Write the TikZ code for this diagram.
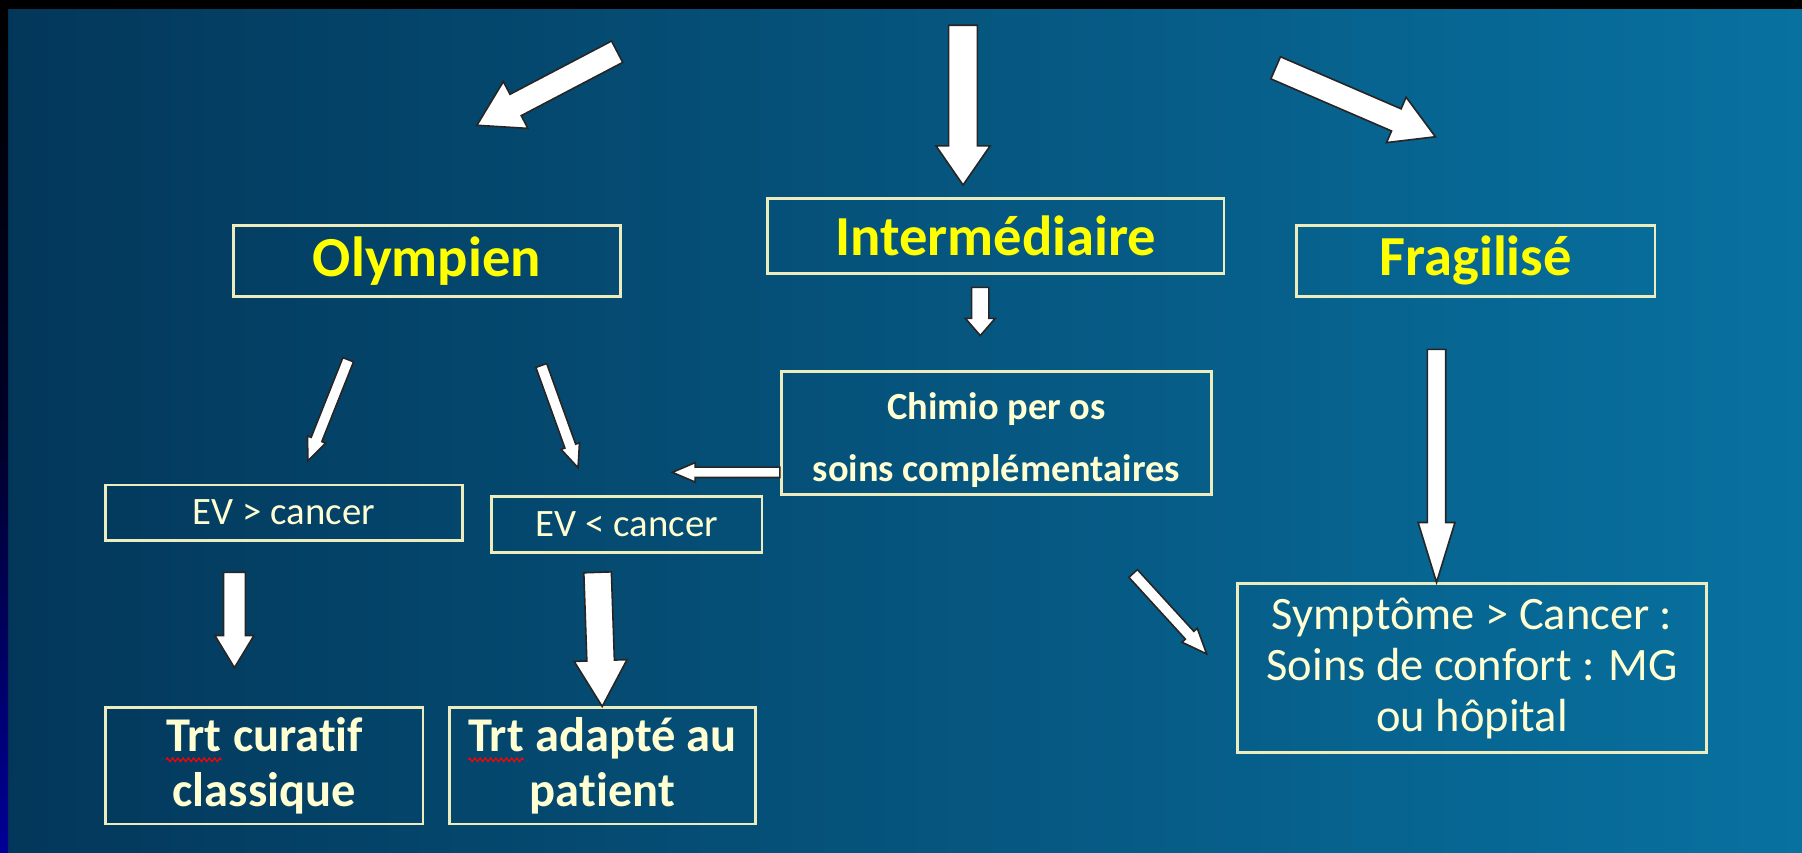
\documentclass[tikz,border=0pt]{standalone}
\usepackage{fontspec}
\setmainfont{Carlito}[Ligatures=NoCommon]
\usetikzlibrary{calc,decorations.pathmorphing}
\definecolor{bgL}{RGB}{3,55,90}
\definecolor{bgR}{RGB}{8,113,160}
\definecolor{ylw}{RGB}{255,255,0}
\definecolor{crm}{RGB}{255,255,210}
\definecolor{bord}{RGB}{236,236,190}
\definecolor{navy}{RGB}{0,0,150}
\definecolor{lnavy}{RGB}{0,0,40}
\tikzset{
  box/.style={draw=bord, line width=0.7pt, inner sep=0pt, align=center},
  hbox/.style={box, text=ylw, font=\bfseries\fontsize{14}{16}\selectfont},
  evbox/.style={box, text=crm, font=\fontsize{9.6}{11}\selectfont},
  trtbox/.style={box, text=crm, font=\bfseries\fontsize{12}{13.6}\selectfont},
  chtext/.style={text=crm, font=\bfseries\fontsize{9.5}{11}\selectfont, align=center, inner sep=0pt},
  sybox/.style={box, text=crm, font=\fontsize{11.5}{12.6}\selectfont},
  blockarrow/.style={fill=white, draw=black!85, line width=0.4pt, line join=miter}
}
\newcommand\barrow[5]{%
  \coordinate (bah) at ($(#2)!#5!(#1)$);
  \filldraw[blockarrow] ($(#1)!#3!90:(#2)$) -- ($(bah)!#3!-90:(#1)$) -- ($(bah)!#4!-90:(#1)$) -- (#2)
    -- ($(bah)!#4!90:(#1)$) -- ($(bah)!#3!90:(#1)$) -- ($(#1)!#3!-90:(#2)$) -- cycle;
}
\newcommand\sqg[1]{\tikz[baseline=(sqgw.base)]{\node[inner sep=0pt, outer sep=0pt, draw=none,
    minimum width=0pt, minimum height=0pt, anchor=base, align=left] (sqgw) {#1};
  \draw[red, line width=0.3pt, decorate, decoration={zigzag, amplitude=0.45pt, segment length=1.3pt}]
    ([yshift=-2pt]sqgw.base west) -- ([yshift=-2pt]sqgw.base east);}}
\begin{document}
\begin{tikzpicture}[x=0.01cm,y=-0.01cm]
\useasboundingbox (0,0) rectangle (1568,742);
\shade[left color=bgL, right color=bgR] (0,0) rectangle (1568,742);
\shade[top color=black, bottom color=navy, middle color=lnavy] (0,0) rectangle (7,742);
\fill[black] (0,0) rectangle (1568,8);

% boxes
\node[hbox, minimum width=3.37cm, minimum height=0.62cm] (oly) at (371.5,227) {Olympien};
\node[hbox, minimum width=3.97cm, minimum height=0.65cm] (inter) at (866.5,205.5) {Intermédiaire};
\node[hbox, minimum width=3.12cm, minimum height=0.62cm] (frag) at (1284,227) {Fragilisé};
\node[box, minimum width=3.74cm, minimum height=1.07cm] (chimio) at (867,376.5) {};
\node[chtext] (chimiot) at (867,383) {Chimio per os\\[4.5pt]soins complémentaires};
\node[evbox, minimum width=3.10cm, minimum height=0.48cm] (evsup) at (247,446) {EV > cancer};
\node[evbox, minimum width=2.35cm, minimum height=0.49cm] (evinf) at (545.5,456.5) {EV < cancer};
\node[trtbox, minimum width=2.76cm, minimum height=1.01cm] (trtc) at (230,666.5) {\sqg{Trt} curatif\\classique};
\node[trtbox, minimum width=2.66cm, minimum height=1.01cm] (trta) at (524,666.5) {\sqg{Trt} adapté au\\patient};
\node[sybox, minimum width=4.08cm, minimum height=1.47cm] (sympt) at (1281,581.5) {Symptôme > Cancer :\\Soins de confort : MG\\ou hôpital};

% arrow end points
\coordinate (t1) at (537,45);   \coordinate (h1) at (415,109);
\coordinate (t2) at (838,22);   \coordinate (h2) at (838,161);
\coordinate (t3) at (1110,59);  \coordinate (h3) at (1249,119);
\coordinate (t4) at (853,250);  \coordinate (h4) at (853,292);
\coordinate (t5) at (chimio.west |- 0,411); \coordinate (h5) at (585,411);
\coordinate (t6) at (303,313);  \coordinate (h6) at (268,401);
\coordinate (t7) at (471,318);  \coordinate (h7) at (503,407);
\coordinate (t8) at (204,498);  \coordinate (h8) at (204,581);
\coordinate (t9) at (520,498);  \coordinate (h9) at (trta.north);
\coordinate (t10) at (1250,304); \coordinate (h10) at (sympt.north -| 1250,0);
\coordinate (t11) at (986,499); \coordinate (h11) at (1050,569);

\barrow{t1}{h1}{0.105cm}{0.23cm}{0.38cm}
\barrow{t2}{h2}{0.125cm}{0.235cm}{0.34cm}
\barrow{t3}{h3}{0.105cm}{0.215cm}{0.37cm}
\barrow{t4}{h4}{0.075cm}{0.13cm}{0.15cm}
\barrow{t5}{h5}{0.045cm}{0.085cm}{0.2cm}
\barrow{t6}{h6}{0.05cm}{0.085cm}{0.2cm}
\barrow{t7}{h7}{0.05cm}{0.085cm}{0.2cm}
\barrow{t8}{h8}{0.095cm}{0.17cm}{0.28cm}
\barrow{t9}{h9}{0.12cm}{0.23cm}{0.4cm}
\barrow{t10}{h10}{0.08cm}{0.16cm}{0.52cm}
\barrow{t11}{h11}{0.05cm}{0.09cm}{0.22cm}
\end{tikzpicture}
\end{document}
